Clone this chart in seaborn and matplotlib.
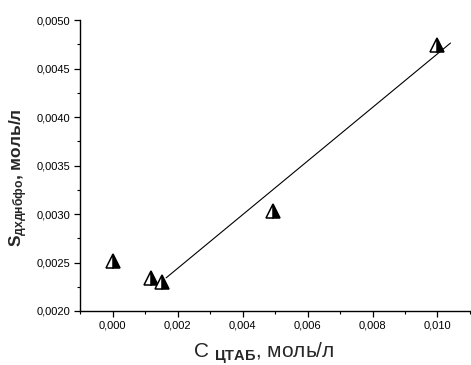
import numpy as np
import pandas as pd
import matplotlib
matplotlib.use("Agg")
import matplotlib.pyplot as plt
import seaborn as sns
from matplotlib.ticker import FuncFormatter, MultipleLocator

# data
c_ctab = [0.00003, 0.00117, 0.00151, 0.00495, 0.00997]
s_dhdnbfo = [0.00252, 0.00234, 0.00230, 0.00303, 0.00474]
fit_points = slice(1, 5)          # points used for the linear fit
fit_range = [0.00165, 0.0104]     # x extent of the fitted line

sns.set_theme(style="ticks")
plt.rcParams["font.family"] = ["Liberation Sans", "DejaVu Sans"]
plt.rcParams["mathtext.fontset"] = "custom"
plt.rcParams["mathtext.rm"] = "Liberation Sans"
plt.rcParams["mathtext.bf"] = "Liberation Sans:bold"
plt.rcParams["mathtext.it"] = "Liberation Sans:italic"

fig = plt.figure(figsize=(4.71, 3.65), dpi=100)
ax = fig.add_axes([80 / 471, 1 - 311 / 365, 390 / 471, 291 / 365])

slope, icpt = np.polyfit(c_ctab[fit_points], s_dhdnbfo[fit_points], 1)
fit_df = pd.DataFrame({"x": fit_range, "y": [slope * v + icpt for v in fit_range]})
sns.lineplot(data=fit_df, x="x", y="y", ax=ax, color="black", linewidth=0.8)

ax.plot(c_ctab, s_dhdnbfo, linestyle="none", marker="^", markersize=9.5,
        fillstyle="right", color="black", markerfacecoloralt="white",
        markeredgecolor="black", markeredgewidth=1.1, zorder=3)

ax.set_xlim(-0.001, 0.011)
ax.set_ylim(0.0020, 0.0050)
ax.xaxis.set_major_locator(MultipleLocator(0.002))
ax.xaxis.set_minor_locator(MultipleLocator(0.001))
ax.yaxis.set_major_locator(MultipleLocator(0.0005))
ax.yaxis.set_minor_locator(MultipleLocator(0.00025))
ax.xaxis.set_major_formatter(FuncFormatter(lambda v, p: f"{v:.3f}".replace(".", ",").replace("-0,000", "0,000")))
ax.yaxis.set_major_formatter(FuncFormatter(lambda v, p: f"{v:.4f}".replace(".", ",")))

for side in ["top", "right"]:
    ax.spines[side].set_visible(False)
for side in ["left", "bottom"]:
    ax.spines[side].set_linewidth(1.0)
    ax.spines[side].set_color("black")

ax.tick_params(which="major", direction="out", length=4, width=0.9, labelsize=8,
               colors="black", pad=3)
ax.tick_params(which="minor", direction="out", length=2.5, width=0.8, colors="black")

ax.set_xlabel(r"C$\ _{\mathbf{ЦТАБ}}$, моль/л", fontsize=15)
ax.xaxis.set_label_coords(0.47, -0.1)
ax.xaxis.label.set_verticalalignment("top")
ax.set_ylabel(r"$\mathbf{S}_{\mathbf{дхднбфо}}$, моль/л", fontsize=12.5,
              fontweight="bold")
ax.yaxis.set_label_coords(-0.158, 0.46)
ax.yaxis.label.set_verticalalignment("center")

fig.savefig("out.png", dpi=100)
